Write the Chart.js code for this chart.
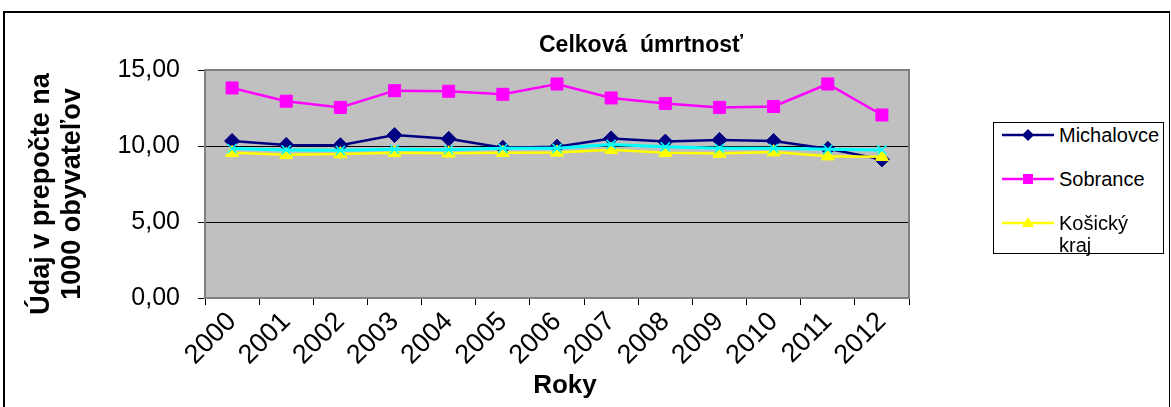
<!DOCTYPE html>
<html lang="sk">
<head>
<meta charset="utf-8">
<title>Celková úmrtnosť</title>
<script src="https://cdn.jsdelivr.net/npm/chart.js@4.4.1/dist/chart.umd.min.js"></script>
<style>
    html, body {
        margin: 0;
        padding: 0;
        background: #fff;
        font-family: Arial, "Liberation Sans", sans-serif;
    }
    #wrap {
        position: relative;
        width: 1171px;
        height: 407px;
        overflow: hidden;
    }
    #frame {
        position: absolute;
        left: 3px;
        top: 11px;
        width: 1164px;
        height: 420px;
        border-left: 2px solid #000;
        border-top: 2px solid #000;
        border-right: 1px solid #000;
        pointer-events: none;
    }
    #chart {
        position: absolute;
        left: 0;
        top: 0;
    }
    #legend {
        position: absolute;
        left: 993px;
        top: 122px;
        width: 171px;
        height: 132px;
        border: 1px solid #000;
        box-sizing: border-box;
        background: #fff;
    }
    .item {
        position: absolute;
        left: 6px;
        font-size: 20px;
        line-height: 22px;
        color: #000;
    }
    .item svg {
        position: absolute;
        left: 0;
        top: 0;
    }
    .item span {
        position: absolute;
        left: 59px;
        top: 0;
        white-space: nowrap;
    }
</style>
</head>
<body>
<div id="wrap">
    <canvas id="chart" width="1171" height="407"></canvas>
    <div id="frame"></div>
    <div id="legend">
        <div class="item" style="top:1px">
            <svg width="56" height="22"><line x1="2" y1="11" x2="54" y2="11" stroke="#000080" stroke-width="2.5"/><polygon points="28,5 34,11 28,17 22,11" fill="#000080"/></svg>
            <span>Michalovce</span>
        </div>
        <div class="item" style="top:45px">
            <svg width="56" height="22"><line x1="2" y1="11" x2="54" y2="11" stroke="#FF00FF" stroke-width="2.5"/><rect x="23" y="6" width="10" height="10" fill="#FF00FF"/></svg>
            <span>Sobrance</span>
        </div>
        <div class="item" style="top:89px">
            <svg width="56" height="22"><line x1="2" y1="11" x2="54" y2="11" stroke="#FFFF00" stroke-width="2.5"/><polygon points="28,5 34,15 22,15" fill="#FFFF00"/></svg>
            <span>Košický<br>kraj</span>
        </div>
    </div>
</div>
<script>
// hodnoty odčítané z grafu (na 1000 obyvateľov)
const years = ['2000', '2001', '2002', '2003', '2004', '2005', '2006', '2007', '2008', '2009', '2010', '2011', '2012'];
const michalovce = [10.33, 10.07, 10.05, 10.72, 10.47, 9.89, 9.95, 10.50, 10.29, 10.40, 10.33, 9.82, 9.12];
const sobrance = [13.82, 12.95, 12.54, 13.64, 13.60, 13.40, 14.08, 13.16, 12.80, 12.54, 12.60, 14.08, 12.04];
const kosickyKraj = [9.55, 9.42, 9.47, 9.55, 9.52, 9.56, 9.58, 9.76, 9.55, 9.50, 9.60, 9.33, 9.30];
const slovensko = [9.83, 9.74, 9.72, 9.78, 9.76, 9.85, 9.85, 10.10, 9.95, 9.85, 9.85, 9.78, 9.74];
const yTicks = [0, 5, 10, 15];

const chartTitle = 'Celková  úmrtnosť';
const yTitle = ['Údaj v prepočte na', '1000 obyvateľov'];
const xTitle = 'Roky';

const plotArea = {
    id: 'plotArea',
    beforeDraw(chart) {
        const { ctx, chartArea: a } = chart;
        ctx.save();
        ctx.fillStyle = '#C0C0C0';
        ctx.fillRect(a.left, a.top, a.right - a.left, a.bottom - a.top);
        ctx.restore();
    },
    beforeDatasetsDraw(chart) {
        const { ctx, chartArea: a } = chart;
        ctx.save();
        ctx.strokeStyle = '#808080';
        ctx.lineWidth = 2;
        ctx.strokeRect(a.left, a.top, a.right - a.left, a.bottom - a.top);
        ctx.restore();
    }
};

// nadpisy kreslené na presné miesta ako v Exceli
const titles = {
    id: 'titles',
    afterDraw(chart) {
        const ctx = chart.ctx;
        ctx.save();
        ctx.fillStyle = '#000';
        ctx.textAlign = 'center';
        ctx.textBaseline = 'middle';

        ctx.font = 'bold 23px Arial, "Liberation Sans", sans-serif';
        ctx.fillText(chartTitle, 641, 46);

        ctx.font = 'bold 26px Arial, "Liberation Sans", sans-serif';
        ctx.fillText(xTitle, 565, 386);

        ctx.font = 'bold 27px Arial, "Liberation Sans", sans-serif';
        ctx.translate(0, 194);
        ctx.rotate(-Math.PI / 2);
        ctx.fillText(yTitle[0], 0, 42);
        ctx.fillText(yTitle[1], 0, 73);
        ctx.restore();
    }
};

new Chart(document.getElementById('chart'), {
    type: 'line',
    data: {
        labels: years,
        datasets: [
            {
                label: 'Michalovce',
                data: michalovce,
                borderColor: '#000080',
                backgroundColor: '#000080',
                borderWidth: 2.5,
                pointStyle: 'rectRot',
                pointRadius: 7.5,
                pointBorderWidth: 1,
                order: 3
            },
            {
                label: 'Sobrance',
                data: sobrance,
                borderColor: '#FF00FF',
                backgroundColor: '#FF00FF',
                borderWidth: 2.5,
                pointStyle: 'rect',
                pointRadius: 8.5,
                pointBorderWidth: 1,
                order: 2
            },
            {
                label: 'Košický kraj',
                data: kosickyKraj,
                borderColor: '#FFFF00',
                backgroundColor: '#FFFF00',
                borderWidth: 2.5,
                pointStyle: 'triangle',
                pointRadius: 7.5,
                pointBorderWidth: 1,
                order: 1
            },
            {
                label: 'SR',
                data: slovensko,
                borderColor: '#00FFFF',
                backgroundColor: '#00FFFF',
                borderWidth: 3,
                pointStyle: 'crossRot',
                pointRadius: 6.5,
                pointBorderWidth: 1.5,
                order: 0
            }
        ]
    },
    options: {
        responsive: false,
        animation: false,
        events: [],
        layout: {
            padding: { top: 70, right: 262, left: 0, bottom: 0 }
        },
        plugins: {
            legend: { display: false },
            title: { display: false },
            tooltip: { enabled: false }
        },
        elements: {
            line: { tension: 0 }
        },
        scales: {
            x: {
                type: 'category',
                offset: true,
                afterFit(scale) { scale.height = 109; },
                grid: {
                    offset: true,
                    drawOnChartArea: false,
                    tickLength: 7,
                    color: '#000',
                    tickColor: '#000'
                },
                border: { display: false },
                ticks: {
                    color: '#000',
                    font: { family: 'Arial, "Liberation Sans", sans-serif', size: 27 },
                    minRotation: 45,
                    maxRotation: 45,
                    padding: 1,
                    autoSkip: false
                }
            },
            y: {
                min: 0,
                max: 15,
                afterFit(scale) { scale.width = 205; },
                afterBuildTicks(scale) {
                    scale.ticks = yTicks.map(v => ({ value: v }));
                },
                grid: {
                    color: '#000',
                    tickColor: '#000',
                    lineWidth: 1,
                    tickLength: 7
                },
                border: { display: false },
                ticks: {
                    color: '#000',
                    font: { family: 'Arial, "Liberation Sans", sans-serif', size: 25 },
                    padding: 18,
                    callback: value => value.toFixed(2).replace('.', ',')
                }
            }
        }
    },
    plugins: [plotArea, titles]
});
</script>
</body>
</html>
